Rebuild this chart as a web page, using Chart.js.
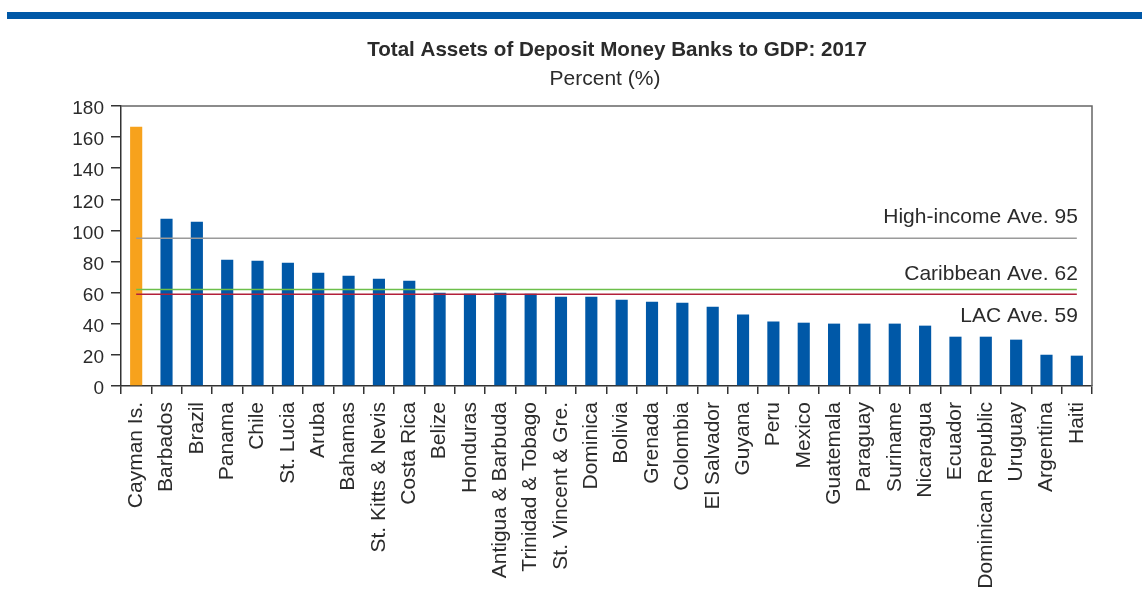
<!DOCTYPE html>
<html>
<head>
<meta charset="utf-8">
<script src="https://cdn.jsdelivr.net/npm/chart.js@4.4.1/dist/chart.umd.min.js"></script>
<style>
  body { margin: 0; background: #fff; }
  #wrap { position: relative; width: 1142px; height: 591px; }
  #band { position: absolute; left: 7px; right: 0; top: 12px; height: 7px; background: #0058a7; }
  #myChart { position: absolute; left: 0; top: 0; }
</style>
</head>
<body>
<div id="wrap">
  <div id="band"></div>
  <canvas id="myChart" width="1142" height="591"></canvas>
</div>
<script>
// data
const countries = [
  "Cayman Is.", "Barbados", "Brazil", "Panama", "Chile", "St. Lucia", "Aruba",
  "Bahamas", "St. Kitts & Nevis", "Costa Rica", "Belize", "Honduras",
  "Antigua & Barbuda", "Trinidad & Tobago", "St. Vincent & Gre.", "Dominica",
  "Bolivia", "Grenada", "Colombia", "El Salvador", "Guyana", "Peru", "Mexico",
  "Guatemala", "Paraguay", "Suriname", "Nicaragua", "Ecuador",
  "Dominican Republic", "Uruguay", "Argentina", "Haiti"
];
const assetsToGdp = [
  166.6, 107.5, 105.6, 81.2, 80.5, 79.2, 72.8, 70.9, 69.0, 67.7, 60.0, 59.3,
  60.0, 59.3, 57.4, 57.4, 55.5, 54.2, 53.5, 51.0, 45.9, 41.4, 40.7, 40.1,
  40.1, 40.1, 38.8, 31.7, 31.7, 29.8, 20.1, 19.5
];
const highlighted = ["Cayman Is."];
const avgNames = ["High-income Ave. 95", "Caribbean Ave. 62", "LAC Ave. 59"];
const avgValues = [95, 62, 59];
const yTicks = [0, 20, 40, 60, 80, 100, 120, 140, 160, 180];

const titleText = "Total Assets of Deposit Money Banks to GDP: 2017";
const subtitleText = "Percent (%)";

var blue = "#0058a7";
var orange = "#f7a21c";
var avgColors = ["#9a9a9a", "#6cbf4a", "#b2203a"];
var avgLabelShift = [-15, -10, 28];
var textColor = "#2b2b2b";
var font = "'Liberation Sans', Arial, sans-serif";

var barColors = countries.map(function (c) {
  return highlighted.includes(c) ? orange : blue;
});

var avgSets = avgValues.map(function (v, i) {
  return {
    type: "line",
    label: avgNames[i],
    data: countries.map(function () { return v; }),
    borderColor: avgColors[i],
    borderWidth: 1.6,
    pointRadius: 0,
    fill: false,
    order: 1
  };
});

// title, subtitle, average labels and plot frame
const decor = {
  id: "decor",
  afterDraw(chart) {
    const ctx = chart.ctx;
    const area = chart.chartArea;
    const xs = chart.scales.x;
    const ys = chart.scales.y;
    ctx.save();

    ctx.strokeStyle = "#666";
    ctx.lineWidth = 1.5;
    ctx.beginPath();
    ctx.moveTo(area.left, area.top);
    ctx.lineTo(area.right, area.top);
    ctx.lineTo(area.right, area.bottom);
    ctx.stroke();

    ctx.fillStyle = textColor;
    ctx.textAlign = "center";
    ctx.textBaseline = "alphabetic";
    ctx.font = "bold 20.6px " + font;
    ctx.fillText(titleText, 617, 56);
    ctx.font = "21px " + font;
    ctx.fillText(subtitleText, 605, 85);

    ctx.textAlign = "right";
    var xr = xs.getPixelForValue(countries.length - 1) + 1;
    for (let i = 0; i < avgNames.length; i++) {
      var y = ys.getPixelForValue(avgValues[i]) + avgLabelShift[i];
      ctx.fillText(avgNames[i], xr, y);
    }
    ctx.restore();
  }
};

new Chart("myChart", {
  data: {
    labels: countries,
    datasets: avgSets.concat([
      {
        type: "bar",
        label: "Total assets / GDP",
        data: assetsToGdp,
        backgroundColor: barColors,
        barPercentage: 0.4,
        categoryPercentage: 1,
        order: 2
      }
    ])
  },
  options: {
    responsive: false,
    animation: false,
    devicePixelRatio: 1,
    layout: { padding: { top: 106, right: 50, left: 0, bottom: 0 } },
    plugins: {
      legend: { display: false },
      tooltip: { enabled: false },
      title: { display: false }
    },
    scales: {
      x: {
        offset: true,
        afterFit: function (s) { s.height = 205; },
        grid: {
          offset: true,
          drawOnChartArea: false,
          tickLength: 8,
          tickColor: "#333",
          lineWidth: 1.5
        },
        border: { color: "#333", width: 1.5 },
        ticks: {
          autoSkip: false,
          maxRotation: 90,
          minRotation: 90,
          padding: 8,
          color: textColor,
          font: { family: font, size: 21 }
        }
      },
      y: {
        min: 0,
        max: 180,
        afterFit: function (s) { s.width = 121; },
        afterBuildTicks: function (s) {
          s.ticks = yTicks.map(function (v) { return { value: v }; });
        },
        grid: {
          drawOnChartArea: false,
          tickLength: 10,
          tickColor: "#333",
          lineWidth: 1.5
        },
        border: { color: "#333", width: 1.5 },
        ticks: {
          padding: 7,
          labelOffset: 3,
          color: textColor,
          font: { family: font, size: 19 }
        }
      }
    }
  },
  plugins: [decor]
});
</script>
</body>
</html>
